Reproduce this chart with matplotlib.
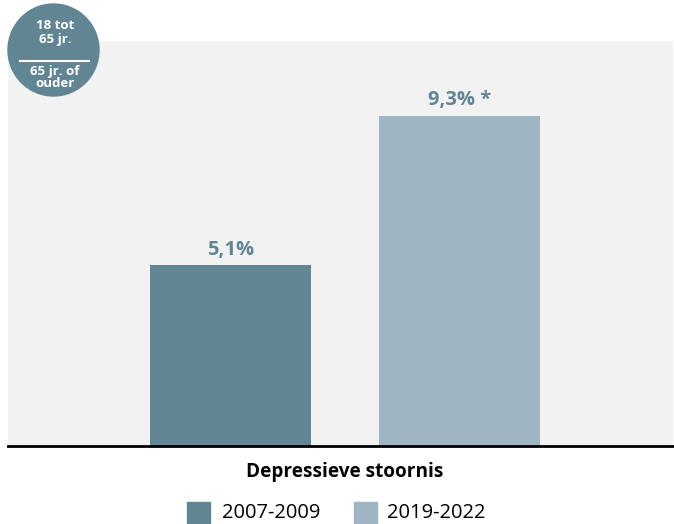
import matplotlib
matplotlib.use("Agg")
import matplotlib.pyplot as plt
from matplotlib.patches import Ellipse, Rectangle
from matplotlib.lines import Line2D

categories = ["2007-2009", "2019-2022"]
values = [5.1, 9.3]
labels = ["5,1%", "9,3% *"]
xlabel = "Depressieve stoornis"
badge_lines = ["18 tot", "65 jr.", "65 jr. of", "ouder"]

colors = ["#628593", "#9fb5c3"]
label_color = "#628593"
bg = "#f2f2f2"

plt.rcParams['font.family'] = ['Open Sans', 'DejaVu Sans']

W, H = 674, 524
fig = plt.figure(figsize=(W / 100, H / 100), dpi=100)
ax = fig.add_axes([8 / W, 1 - 446 / H, (673 - 8) / W, (446 - 41) / H])
ax.set_facecolor(bg)

x = list(range(len(values)))
ax.bar(x, values, width=0.703, color=colors, zorder=2)
ax.set_xlim(-0.9716, 1.932)
ax.set_ylim(0, 11.41)

for xi, v, lab in zip(x, values, labels):
    ax.annotate(lab, (xi, v), xytext=(0, 7.5), textcoords="offset points",
                ha="center", va="baseline", fontsize=14.5, fontweight="bold",
                color=label_color)

for s in ["top", "right", "left"]:
    ax.spines[s].set_visible(False)
ax.spines["bottom"].set_linewidth(2)
ax.spines["bottom"].set_color("black")
ax.set_xticks([])
ax.set_yticks([])

# x-axis category title
fig.text(345 / W, 1 - 477 / H, xlabel, ha="center", va="baseline",
         fontsize=13.7, fontweight="bold", color="black")

# legend
sq_x = [187, 354]
txt_x = [222, 387]
for sx, tx, c, cat in zip(sq_x, txt_x, colors, categories):
    fig.patches.append(Rectangle((sx / W, 1 - 524 / H), 23 / W, 22 / H,
                                 transform=fig.transFigure, color=c))
    fig.text(tx / W, 1 - 518.5 / H, cat, ha="left", va="baseline",
             fontsize=14.5, color="black")

# badge
fig.patches.append(Ellipse((53.5 / W, 1 - 50 / H), 91 / W, 92 / H,
                           transform=fig.transFigure, color="#628593", zorder=5))
fig.lines.append(Line2D([20 / W, 89 / W], [1 - 61 / H, 1 - 61 / H],
                        transform=fig.transFigure, color="white", lw=1.5, zorder=6))
badge_y = [29, 43, 75, 87]
for t, by in zip(badge_lines, badge_y):
    fig.text(55 / W, 1 - by / H, t, ha="center", va="baseline",
             fontsize=9.5, fontweight="bold", color="white", zorder=7)

fig.savefig("out.png", dpi=100)
